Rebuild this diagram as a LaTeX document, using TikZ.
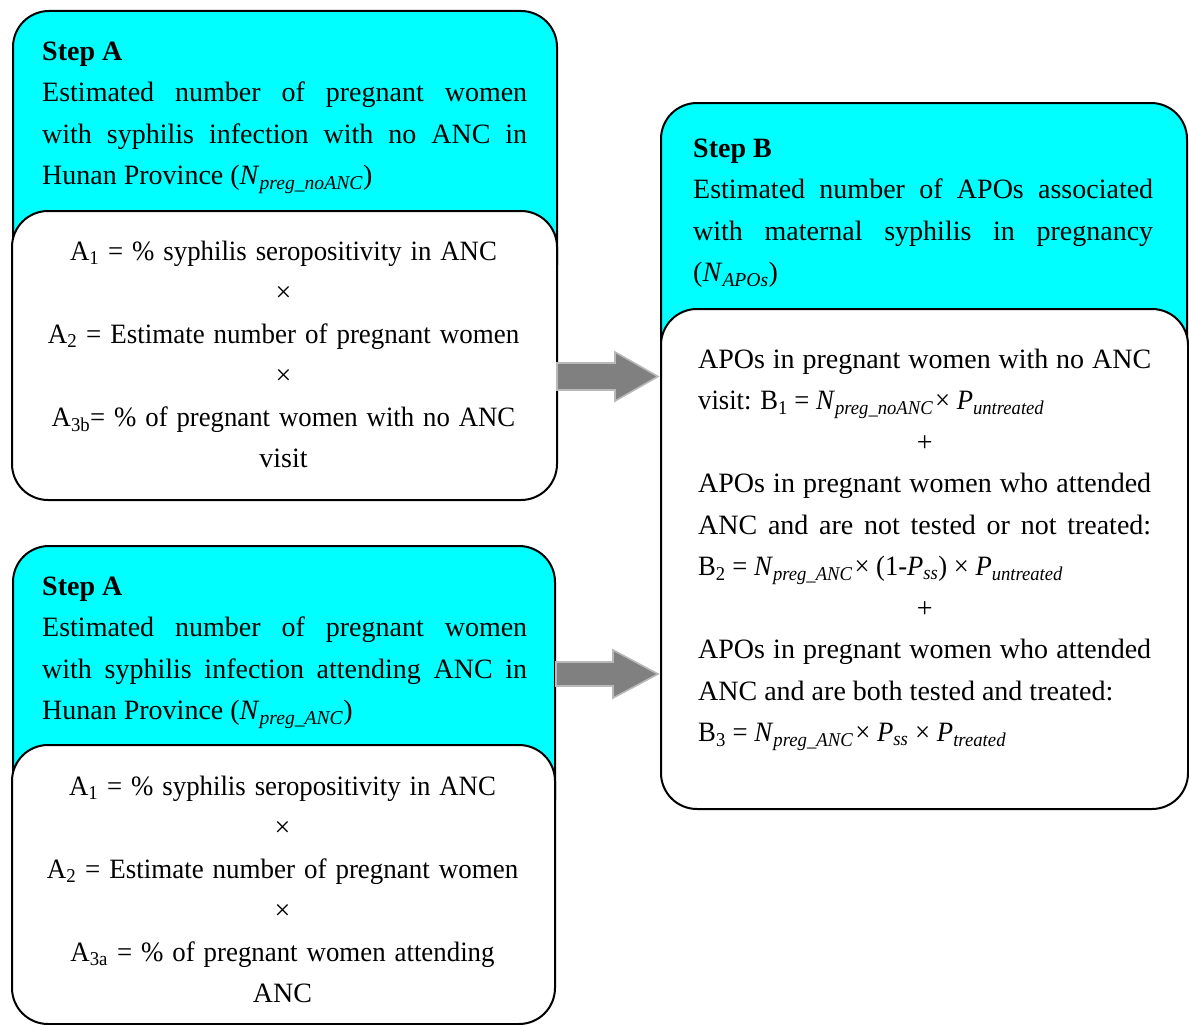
\documentclass[tikz,border=0pt]{standalone}
\usepackage{fontspec}
\usepackage{graphicx}
\setmainfont{Liberation Serif}
\definecolor{cyanc}{RGB}{0,255,255}
\definecolor{arrowfill}{RGB}{128,128,128}
\definecolor{arrowedge}{RGB}{185,185,185}
\newcommand\cnd[2][0.96]{\scalebox{#1}[1]{#2}}
\begin{document}
\begin{tikzpicture}[x=1pt,y=-1pt]
\tikzset{
  boxbase/.style={draw=black, line width=2pt, rounded corners=36pt, inner sep=0pt, anchor=north west},
  cyanbox/.style={boxbase, fill=cyanc},
  whitebox/.style={boxbase, fill=white},
  txtbase/.style={inner sep=0pt, font=\fontsize{28}{41.5}\selectfont},
  jtext/.style={txtbase, align=justify, anchor=north west},
  ctext/.style={txtbase, align=center, anchor=north},
  blockarrow/.style={fill=arrowfill, draw=arrowedge, line width=1.6pt}
}
\useasboundingbox (0,0) rectangle (1189,1025);

% ---------- top Step A ----------
\node[cyanbox, minimum width=544pt, minimum height=290pt] (Atopc) at (12,10) {};
\node[whitebox, minimum width=545pt, minimum height=289pt] (Atopw) at (11,210) {};
\node[jtext, text width=485pt] (AtopT) at (42,31) {\strut\textbf{Step A}\par
Estimated number of pregnant women\linebreak
with syphilis infection with no ANC in\linebreak
Hunan Province (\textit{N}\textsubscript{\textit{preg\_noANC}})};
\node[ctext, text width=530pt] (AtopF) at (283.5,231) {\strut\cnd[0.957]{A\textsubscript{1} = \% syphilis seropositivity in ANC}\\
×\\
\cnd[0.963]{A\textsubscript{2} = Estimate number of pregnant women}\\
×\\
\cnd[0.955]{A\textsubscript{3b}= \% of pregnant women with no ANC}\\
visit};

% ---------- bottom Step A ----------
\node[cyanbox, minimum width=542pt, minimum height=290pt] (Abotc) at (12,545) {};
\node[whitebox, minimum width=543pt, minimum height=279pt] (Abotw) at (11,744) {};
\node[jtext, text width=485pt] (AbotT) at (42,566) {\strut\textbf{Step A}\par
Estimated number of pregnant women\linebreak
with syphilis infection attending ANC in\linebreak
Hunan Province (\textit{N}\textsubscript{\textit{preg\_ANC}})};
\node[ctext, text width=530pt] (AbotF) at (282.5,766) {\strut\cnd[0.957]{A\textsubscript{1} = \% syphilis seropositivity in ANC}\\
×\\
\cnd[0.963]{A\textsubscript{2} = Estimate number of pregnant women}\\
×\\
\cnd[0.959]{A\textsubscript{3a} = \% of pregnant women attending}\\
ANC};

% ---------- Step B ----------
\node[cyanbox, minimum width=526pt, minimum height=300pt] (Bc) at (660,102) {};
\node[whitebox, minimum width=527pt, minimum height=500pt] (Bw) at (660,308) {};
\node[jtext, text width=460pt] (BT) at (693,128) {\strut\textbf{Step B}\par
Estimated number of APOs associated\linebreak
with maternal syphilis in pregnancy\linebreak
(\textit{N}\textsubscript{\textit{APOs}})};
\node[jtext, text width=453pt] (BF) at (698,339) {\strut APOs in pregnant women with no ANC\linebreak
\cnd[0.95]{visit: B\textsubscript{1} = \textit{N}\textsubscript{\textit{preg\_noANC}}\kern2pt× \textit{P}\textsubscript{\textit{untreated}}}\par
\makebox[\linewidth]{+}\par
APOs in pregnant women who attended\linebreak
ANC and are not tested or not treated:\linebreak
\cnd[0.95]{B\textsubscript{2} = \textit{N}\textsubscript{\textit{preg\_ANC}}\kern2pt× (1-\textit{P}\textsubscript{\textit{ss}}) × \textit{P}\textsubscript{\textit{untreated}}}\par
\makebox[\linewidth]{+}\par
APOs in pregnant women who attended\linebreak
ANC and are both tested and treated:\par
\cnd[0.955]{B\textsubscript{3} = \textit{N}\textsubscript{\textit{preg\_ANC}}\kern2pt× \textit{P}\textsubscript{\textit{ss}} × \textit{P}\textsubscript{\textit{treated}}}};

% ---------- block arrows ----------
\draw[blockarrow] (557,363) -- (615,363) -- (615,352) -- (658,376.5) -- (615,401) -- (615,390) -- (557,390) -- cycle;
\draw[blockarrow] (556,662) -- (613,662) -- (613,650) -- (658,674) -- (613,698) -- (613,686) -- (556,686) -- cycle;
\end{tikzpicture}
\end{document}
